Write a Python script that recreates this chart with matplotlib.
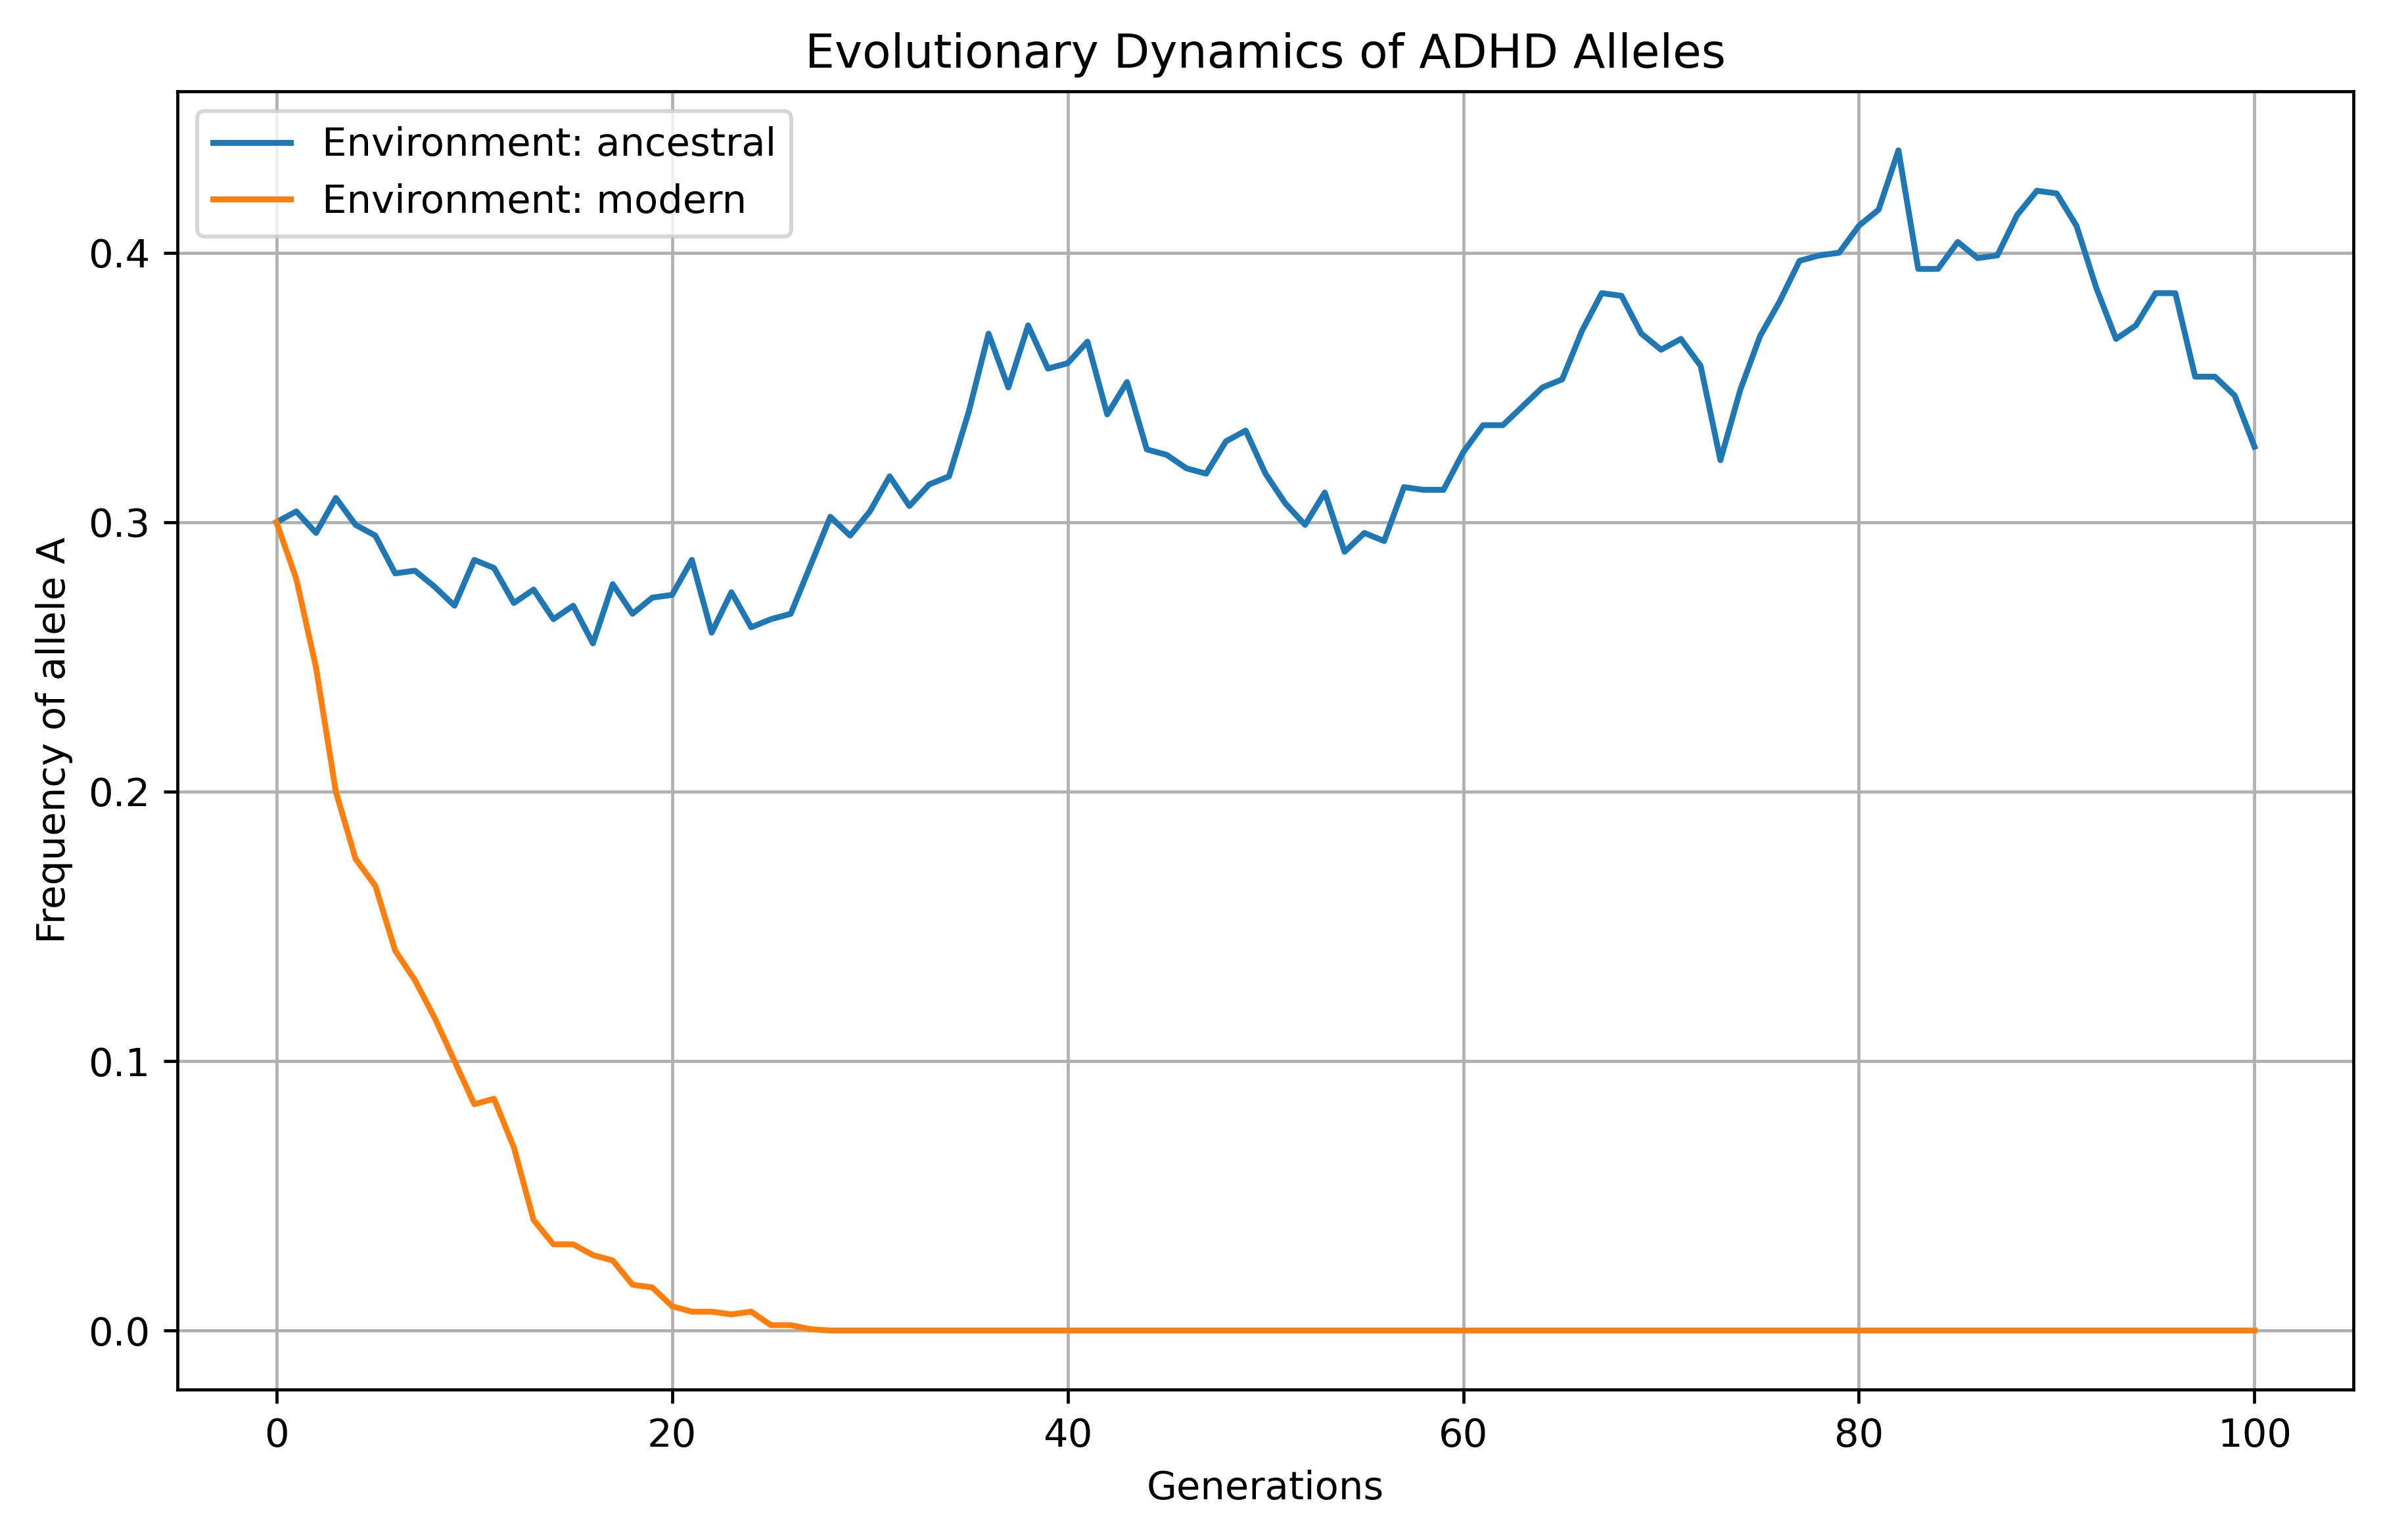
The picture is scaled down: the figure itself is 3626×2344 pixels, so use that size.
import matplotlib
matplotlib.use("Agg")
import matplotlib.pyplot as plt
import numpy as np

generations = list(range(101))

ancestral = [
    0.300, 0.304, 0.296, 0.309, 0.299, 0.295, 0.281, 0.282, 0.276, 0.269,
    0.286, 0.283, 0.270, 0.275, 0.264, 0.269, 0.255, 0.277, 0.266, 0.272,
    0.273, 0.286, 0.259, 0.274, 0.261, 0.264, 0.266, 0.284, 0.302, 0.295,
    0.304, 0.317, 0.306, 0.314, 0.317, 0.341, 0.370, 0.350, 0.373, 0.357,
    0.359, 0.367, 0.340, 0.352, 0.327, 0.325, 0.320, 0.318, 0.330, 0.334,
    0.318, 0.307, 0.299, 0.311, 0.289, 0.296, 0.293, 0.313, 0.312, 0.312,
    0.326, 0.336, 0.336, 0.343, 0.350, 0.353, 0.371, 0.385, 0.384, 0.370,
    0.364, 0.368, 0.358, 0.323, 0.349, 0.369, 0.382, 0.397, 0.399, 0.400,
    0.410, 0.416, 0.438, 0.394, 0.394, 0.404, 0.398, 0.399, 0.414, 0.423,
    0.422, 0.410, 0.387, 0.368, 0.373, 0.385, 0.385, 0.354, 0.354, 0.347,
    0.328,
]

modern = [
    0.300, 0.279, 0.246, 0.200, 0.175, 0.165, 0.141, 0.130, 0.116, 0.100,
    0.084, 0.086, 0.068, 0.041, 0.032, 0.032, 0.028, 0.026, 0.017, 0.016,
    0.009, 0.007, 0.007, 0.006, 0.007, 0.002, 0.002, 0.0005, 0.0, 0.0,
] + [0.0] * 71

series = {
    "Environment: ancestral": ancestral,
    "Environment: modern": modern,
}

dpi = 427
fig = plt.figure(figsize=(3627 / dpi, 2344 / dpi), dpi=dpi)
ax = fig.add_axes([0.0745, 0.0977, 0.9128, 0.843])

for label, vals in series.items():
    ax.plot(generations, vals, label=label)

ax.set_title("Evolutionary Dynamics of ADHD Alleles")
ax.set_xlabel("Generations")
ax.set_ylabel("Frequency of allele A")
ax.legend(loc="upper left")
ax.grid(True)

fig.savefig("out.png", dpi=dpi)
